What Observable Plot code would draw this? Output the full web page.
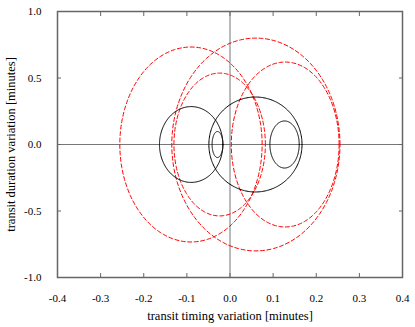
<!DOCTYPE html>
<html>
<head>
<meta charset="utf-8">
<script src="https://cdn.jsdelivr.net/npm/d3@7"></script>
<script src="https://cdn.jsdelivr.net/npm/@observablehq/plot@0.6"></script>
<style>
  html, body { margin: 0; padding: 0; background: #fff; }
</style>
</head>
<body>
<div id="chart"></div>
<script>
// Tick labels
const xTicks = [-0.4, -0.3, -0.2, -0.1, 0.0, 0.1, 0.2, 0.3, 0.4];
const yTicks = [-1.0, -0.5, 0.0, 0.5, 1.0];

// Solid black loops: centre (x), semi-axes (x, y)
const blackCx = [-0.090, 0.059, -0.029, 0.1265];
const blackAx = [0.0735, 0.108, 0.0125, 0.034];
const blackAy = [0.285, 0.357, 0.098, 0.177];

// Dashed red loops: centre (x), semi-axes (x, y)
const redCx = [-0.0905, 0.060, -0.024, 0.128];
const redAx = [0.165, 0.195, 0.106, 0.125];
const redAy = [0.733, 0.800, 0.537, 0.620];

function ellipses(cx, ax, ay) {
  const out = [];
  const N = 240;
  cx.forEach((c, k) => {
    for (let i = 0; i <= N; i++) {
      const t = (2 * Math.PI * i) / N;
      out.push({k, x: c + ax[k] * Math.cos(t), y: ay[k] * Math.sin(t)});
    }
  });
  return out;
}

const blackData = ellipses(blackCx, blackAx, blackAy);
const redData = ellipses(redCx, redAx, redAy);

const fmt = d => d.toFixed(1);
const frameColor = "#666";
const ts = 4;

const chart = Plot.plot({
  width: 415,
  height: 327,
  marginLeft: 57,
  marginRight: 13,
  marginTop: 11,
  marginBottom: 50,
  style: {fontFamily: "'Liberation Serif', serif", fontSize: "11px", background: "#fff", color: "#000"},
  x: {domain: [-0.4, 0.4], ticks: xTicks},
  y: {domain: [-1, 1], ticks: yTicks},
  marks: [
    Plot.ruleX([0], {stroke: "#777", strokeWidth: 1}),
    Plot.ruleY([0], {stroke: "#777", strokeWidth: 1}),
    Plot.line(redData, {x: "x", y: "y", z: "k", stroke: "red", strokeWidth: 1, strokeDasharray: "4,2.5"}),
    Plot.line(blackData, {x: "x", y: "y", z: "k", stroke: "black", strokeWidth: 1}),
    Plot.frame({stroke: frameColor, strokeWidth: 1.5}),
    Plot.axisX(xTicks, {anchor: "bottom", tickSize: ts, dy: -ts, tickFormat: () => "", label: null, stroke: frameColor}),
    Plot.axisX(xTicks, {anchor: "top", tickSize: ts, dy: ts, tickFormat: () => "", label: null, stroke: frameColor}),
    Plot.axisY(yTicks, {anchor: "left", tickSize: ts, dx: ts, tickFormat: () => "", label: null, stroke: frameColor}),
    Plot.axisY(yTicks, {anchor: "right", tickSize: ts, dx: -ts, tickFormat: () => "", label: null, stroke: frameColor}),
    Plot.axisX(xTicks, {anchor: "bottom", tickSize: 0, tickPadding: 17, tickFormat: fmt, label: null, fill: "#000", fontSize: 11}),
    Plot.axisY(yTicks, {anchor: "left", tickSize: 0, tickPadding: 16, tickFormat: fmt, label: null, fill: "#000", fontSize: 11}),
    Plot.text(["transit timing variation [minutes]"], {frameAnchor: "bottom", dy: 42, fontSize: 12.5, fill: "#000"}),
    Plot.text(["transit duration variation [minutes]"], {frameAnchor: "left", textAnchor: "middle", dx: -47, rotate: -90, fontSize: 12.5, fill: "#000"})
  ]
});

document.getElementById("chart").appendChild(chart);
</script>
</body>
</html>
